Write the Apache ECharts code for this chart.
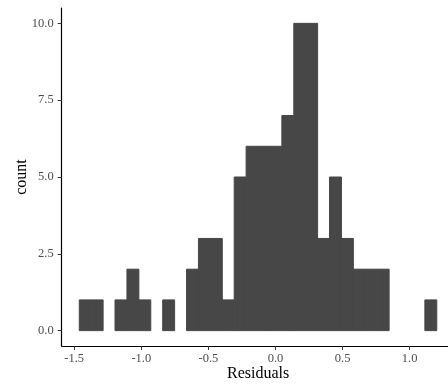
<!DOCTYPE html>
<html>
<head>
<meta charset="utf-8">
<script src="https://cdn.jsdelivr.net/npm/echarts@6/dist/echarts.min.js"></script>
<style>html,body{margin:0;padding:0;background:#fff;}#c{width:448px;height:385px;}</style>
</head>
<body>
<div id="c"></div>
<script>
// Histogram: 30 bins starting at binStart with width binWidth
var binStart = -1.462;
var binWidth = 0.0888;
var counts = [1,1,0,1,2,1,0,1,0,2,3,3,1,5,6,6,6,7,10,10,3,5,3,2,2,2,0,0,0,1];
var xTicks = [-1.5,-1.0,-0.5,0.0,0.5,1.0];
var yTicks = [0,2.5,5,7.5,10];
var xTitle = 'Residuals';
var yTitle = 'count';

var data = counts.map(function(c,i){
  return [binStart + i*binWidth, binStart + (i+1)*binWidth, c];
}).filter(function(d){return d[2] > 0;});

var font = 'Liberation Serif';
var chart = echarts.init(document.getElementById('c'), null, {renderer:'canvas'});
chart.setOption({
  animation:false,
  backgroundColor:'#fff',
  grid:{left:61.7, right:-6.5, top:8, bottom:39, containLabel:false, outerBoundsMode:'none'},
  xAxis:{
    type:'value', min:-1.593, max:1.334,
    name:xTitle, nameLocation:'middle', nameGap:20, nameMoveOverlap:false,
    nameTextStyle:{fontFamily:font, fontSize:16, color:'#000'},
    axisLine:{show:true, onZero:false, lineStyle:{color:'#000', width:1.2}},
    axisTick:{show:true, length:4, customValues:xTicks, lineStyle:{color:'#333', width:1}},
    axisLabel:{customValues:xTicks, fontFamily:font, fontSize:12.5, color:'#4d4d4d', margin:6,
      formatter:function(v){return v.toFixed(1);}},
    splitLine:{show:false}
  },
  yAxis:{
    type:'value', min:-0.5, max:10.5,
    name:yTitle, nameLocation:'middle', nameGap:32, nameRotate:90, nameMoveOverlap:false,
    nameTextStyle:{fontFamily:font, fontSize:16, color:'#000'},
    axisLine:{show:true, onZero:false, lineStyle:{color:'#000', width:1.2}},
    axisTick:{show:true, length:4, customValues:yTicks, lineStyle:{color:'#333', width:1}},
    axisLabel:{customValues:yTicks, fontFamily:font, fontSize:12.5, color:'#4d4d4d', margin:8,
      formatter:function(v){return v.toFixed(1);}},
    splitLine:{show:false}
  },
  series:[{
    type:'custom',
    data:data,
    encode:{x:[0,1], y:2},
    renderItem:function(params, api){
      var p0 = api.coord([api.value(0), 0]);
      var p1 = api.coord([api.value(1), api.value(2)]);
      return {
        type:'rect',
        shape:{x:p0[0], y:p1[1], width:p1[0]-p0[0], height:p0[1]-p1[1]},
        style:{fill:'#474747', stroke:'#474747', lineWidth:1, lineJoin:'miter'}
      };
    }
  }]
});
</script>
</body>
</html>
